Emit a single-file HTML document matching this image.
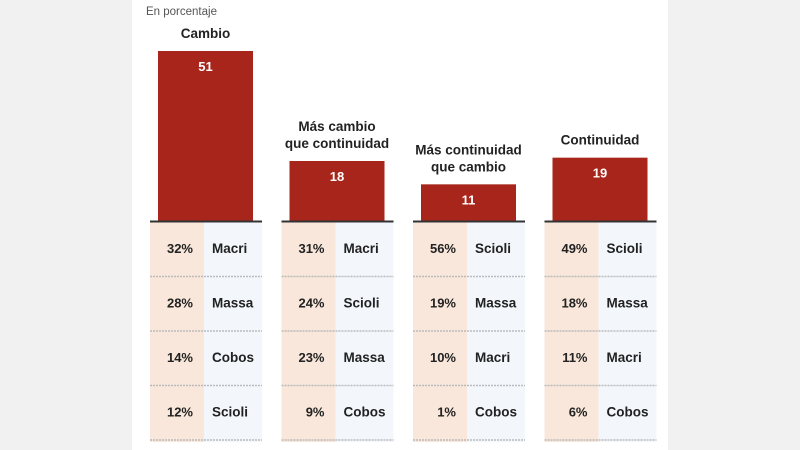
<!DOCTYPE html>
<html><head><meta charset="utf-8">
<style>
body{margin:0;width:800px;height:450px;background:#f1f1f1;overflow:hidden;font-family:"Liberation Sans",sans-serif}
#panel{position:absolute;left:132px;top:0;width:536px;height:450px;background:#fff}
</style></head>
<body>
<div id="panel"></div>
<svg id="chart" width="800" height="450" style="position:absolute;left:0;top:0">
<text x="146" y="15" font-size="11.5" fill="#555">En porcentaje</text>
</svg>
<script>
const categories=[["Cambio"],["Más cambio","que continuidad"],["Más continuidad","que cambio"],["Continuidad"]];
const barValues=[51,18,11,19];
const pctValues=[[32,28,14,12],[31,24,23,9],[56,19,10,1],[49,18,11,6]];
const candidates=[["Macri","Massa","Cobos","Scioli"],["Macri","Scioli","Massa","Cobos"],["Scioli","Massa","Macri","Cobos"],["Scioli","Massa","Macri","Cobos"]];
const NS="http://www.w3.org/2000/svg";
const svg=document.getElementById('chart');
const baseY=221, scale=170/51;
const groupX=i=>150+i*131.5;
const yBar=v=>baseY-v*scale;
const rowY=j=>222+j*54.5;
function mk(t,a,txt){const e=document.createElementNS(NS,t);for(const k in a)e.setAttribute(k,a[k]);if(txt!==undefined)e.textContent=txt;svg.appendChild(e);return e;}
categories.forEach((cat,i)=>{
  const gx=groupX(i);
  // table backgrounds
  let e=mk('rect',{x:gx,y:222,width:54,height:220,fill:'#f8e7da'});
  
  
  e=mk('rect',{x:gx+54,y:222,width:58,height:220,fill:'#f3f7fc'});
  
  
  // bar
  const top=yBar(barValues[i]);
  e=mk('rect',{x:gx+8,y:top,width:95,height:baseY-top,fill:'#a8251b'});
  
  
  e=mk('text',{x:gx+55.5,y:top+20,'font-size':13,'font-weight':'bold',fill:'#fff','text-anchor':'middle'},barValues[i]);
  
  
  // category label
  cat.forEach((line,k)=>{
    const ly=top-13-(cat.length-1-k)*17;
    e=mk('text',{x:gx+55.5,y:ly,'font-size':13.5,'font-weight':'bold',fill:'#222','text-anchor':'middle'},line);
    
    
  });
  // baseline
  e=mk('line',{x1:gx,x2:gx+112,y1:baseY+0.5,y2:baseY+0.5,stroke:'#333','stroke-width':2});
  
  
  // rows
  pctValues[i].forEach((p,j)=>{
    const cy=rowY(j)+31;
    e=mk('text',{x:gx+43,y:cy,'font-size':13,'font-weight':'bold',fill:'#222','text-anchor':'end'},p+'%');
    
    
    e=mk('text',{x:gx+62,y:cy,'font-size':13.5,'font-weight':'bold',fill:'#222'},candidates[i][j]);
    
    
    e=mk('line',{x1:gx,x2:gx+112,y1:rowY(j+1),y2:rowY(j+1),stroke:'#bbb','stroke-width':1.5,'stroke-dasharray':'2 1'});
    
    
  });
});
</script>
</body></html>
